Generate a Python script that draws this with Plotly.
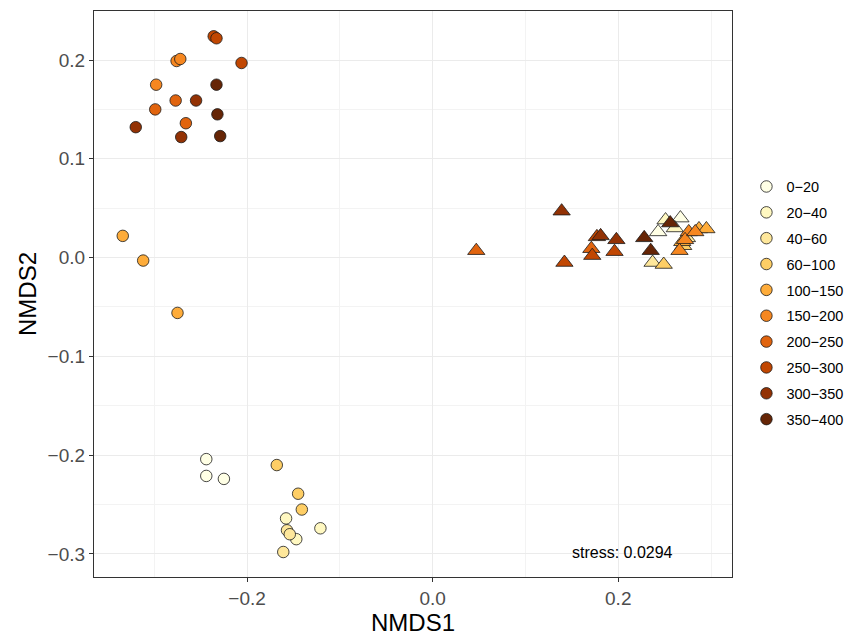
import plotly.graph_objects as go

classes = ["0\u221220", "20\u221240", "40\u221260", "60\u2212100", "100\u2212150",
           "150\u2212200", "200\u2212250", "250\u2212300", "300\u2212350", "350\u2212400"]
colors = ["#ffffe5", "#fff8c1", "#fee79b", "#fece65", "#feac3a",
          "#f68720", "#e1640e", "#c14702", "#933204", "#662506"]

# circles (group A): NMDS1, NMDS2 per depth class
circ_x = [
    [-0.244, -0.244, -0.225],
    [-0.158, -0.147, -0.121],
    [-0.157, -0.154, -0.161],
    [-0.168, -0.145, -0.141],
    [-0.334, -0.312, -0.275],
    [-0.276, -0.272, -0.298],
    [-0.277, -0.299, -0.266],
    [-0.236, -0.233, -0.206],
    [-0.255, -0.320, -0.271],
    [-0.233, -0.232, -0.229],
]
circ_y = [
    [-0.204, -0.221, -0.224],
    [-0.264, -0.285, -0.274],
    [-0.276, -0.280, -0.298],
    [-0.210, -0.239, -0.255],
    [0.022, -0.003, -0.056],
    [0.199, 0.201, 0.175],
    [0.159, 0.150, 0.136],
    [0.224, 0.222, 0.197],
    [0.159, 0.132, 0.122],
    [0.175, 0.145, 0.123],
]
# triangles (group B)
tri_x = [
    [0.243, 0.267],
    [0.251, 0.261],
    [0.237, 0.274],
    [0.249, 0.270],
    [0.287, 0.295, 0.269],
    [0.276, 0.266, 0.272, 0.283],
    [0.047, 0.171],
    [0.142, 0.172, 0.196, 0.177],
    [0.139, 0.181, 0.198],
    [0.256, 0.228, 0.235],
]
tri_y = [
    [0.026, 0.040],
    [0.038, 0.030],
    [-0.005, 0.020],
    [-0.007, 0.012],
    [0.029, 0.029, 0.016],
    [0.026, 0.007, 0.018, 0.026],
    [0.007, 0.009],
    [-0.005, 0.002, 0.006, 0.021],
    [0.047, 0.022, 0.018],
    [0.035, 0.020, 0.007],
]
stress_label = "stress: 0.0294"

FONT = "Liberation Sans, Arial, sans-serif"
fig = go.Figure()
for i, c in enumerate(classes):
    fig.add_trace(go.Scatter(
        x=circ_x[i], y=circ_y[i], mode="markers", name=c, legendgroup=c,
        marker=dict(symbol="circle", size=11.5, color=colors[i],
                    line=dict(color="#1a1a1a", width=0.8))))
for i, c in enumerate(classes):
    fig.add_trace(go.Scatter(
        x=tri_x[i], y=tri_y[i], mode="markers", name=c, legendgroup=c,
        showlegend=False,
        marker=dict(symbol="triangle-up", size=15, color=colors[i],
                    line=dict(color="#1a1a1a", width=0.8))))

fig.add_annotation(x=0.205, y=-0.299, text=stress_label, showarrow=False,
                   xanchor="center", yanchor="middle",
                   font=dict(family=FONT, size=16, color="black"))

axis_common = dict(
    showline=True, mirror=True, linecolor="#333333", linewidth=1.2,
    ticks="outside", ticklen=4, tickwidth=1, tickcolor="#333333",
    tickfont=dict(family=FONT, size=19, color="#4d4d4d"),
    showgrid=True, gridcolor="#ebebeb", gridwidth=1.1,
    zeroline=False, tickformat=".1f", automargin=False,
)
fig.update_xaxes(range=[-0.365, 0.3226], tick0=0, dtick=0.2,
                 minor=dict(dtick=0.1, tick0=0, showgrid=True, gridcolor="#f3f3f3",
                            gridwidth=0.6, ticklen=0),
                 title=dict(text="NMDS1", font=dict(family=FONT, size=24, color="black"),
                            standoff=4),
                 **axis_common)
fig.update_yaxes(range=[-0.3233, 0.2496], tick0=0, dtick=0.1,
                 minor=dict(dtick=0.05, tick0=0, showgrid=True, gridcolor="#f3f3f3",
                            gridwidth=0.6, ticklen=0),
                 title=dict(text="NMDS2", font=dict(family=FONT, size=24, color="black"),
                            standoff=4),
                 **axis_common)

fig.update_layout(
    width=856, height=636,
    margin=dict(l=94, r=124, t=11, b=59, pad=0),
    plot_bgcolor="white", paper_bgcolor="white",
    legend=dict(xref="container", x=0.872, xanchor="left",
                y=0.484, yanchor="middle",
                font=dict(family=FONT, size=14.5, color="black"),
                tracegroupgap=4, bgcolor="rgba(0,0,0,0)"),
)
fig.write_html("out.html")
